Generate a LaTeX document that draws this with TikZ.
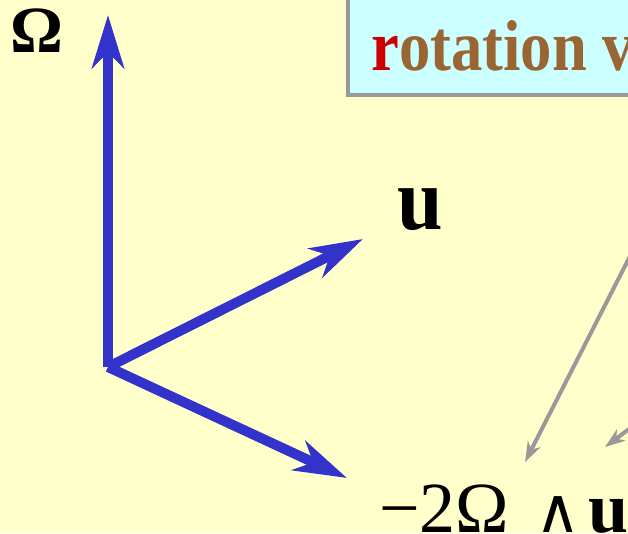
\documentclass[tikz,border=0pt]{standalone}
\usepackage{fontspec}
\setmainfont{Liberation Serif}
\newfontfamily\symfont{DejaVu Sans}
\usepackage{graphicx}
\usepackage{xcolor}
\usetikzlibrary{arrows.meta}
\definecolor{paper}{HTML}{FFFFCC}
\definecolor{vecblue}{HTML}{3333CC}
\definecolor{boxcyan}{HTML}{CCFFFF}
\definecolor{boxgray}{HTML}{999999}
\definecolor{titlebrown}{HTML}{996633}
\definecolor{titlered}{HTML}{CC0000}
\newcommand{\narrowtext}[3]{\fontsize{#1}{#1}\selectfont\scalebox{#2}[1]{#3}}

\begin{document}
\begin{tikzpicture}[x=1pt,y=-1pt,
  vec/.style={draw=vecblue, line width=10pt,
    -{Stealth[length=53pt,width=32pt,inset=16pt]}},
  pointer/.style={draw=boxgray, line width=4pt,
    -{Stealth[length=20pt,width=14pt,inset=6pt]}},
  lbl/.style={inner sep=0pt, anchor=base}]
  \useasboundingbox[fill=paper] (0,0) rectangle (628,533);
  \clip (0,0) rectangle (628,533);
  % box at the top right, cut by the edges
  \draw[fill=boxcyan, draw=boxgray, line width=4pt] (348,-10) rectangle (660,95);
  \node[lbl, anchor=base west] (title) at (371,70)
    {\narrowtext{72}{0.87}{\bfseries\textcolor{titlered}{r}\textcolor{titlebrown}{otation v}}};
  % the three vectors
  \coordinate (O) at (108,367);
  \coordinate (Otip) at (108,15);
  \coordinate (utip) at (363,239);
  \coordinate (ctip) at (347,478);
  \draw[vec] (O) -- (Otip);
  \draw[vec] (O) -- (utip);
  \draw[vec] (O) -- (ctip);
  \node[lbl] (omega) at (37,52) {\fontsize{66}{66}\selectfont\bfseries Ω};
  \node[lbl] (u) at (420,229) {\narrowtext{89}{0.92}{\bfseries u}};
  \node[lbl, anchor=base west] (cross) at (379,532)
    {\fontsize{72}{72}\selectfont −2Ω\hspace{26pt}{\symfont\fontsize{62}{62}\selectfont ∧}\hspace{8pt}\textbf{u}};
  % pointers from the box
  \coordinate (p1) at (650,217);
  \coordinate (p2) at (660,406);
  \coordinate (c1) at (525,462);
  \coordinate (c2) at (605,447);
  \draw[pointer] (p1) -- (c1);
  \draw[pointer] (p2) -- (c2);
\end{tikzpicture}
\end{document}
